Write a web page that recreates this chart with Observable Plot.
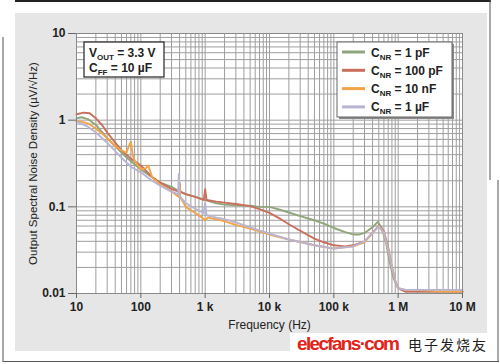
<!DOCTYPE html>
<html><head><meta charset="utf-8">
<script src="https://cdn.jsdelivr.net/npm/d3@7"></script>
<script src="https://cdn.jsdelivr.net/npm/@observablehq/plot@0.6"></script>
<style>html,body{margin:0;padding:0;background:#fff;} #chart{width:500px;height:364px;position:relative;}</style>
</head><body><div id="chart"></div>
<script>
// ---- data ----
const SERIES_NAMES = ["1 pF", "100 pF", "10 nF", "1 µF"];
const SERIES_COLORS = ["#8fa67c", "#c96f5b", "#f2a447", "#bab4d4"];

const F_1PF = [10,12,15,20,30,40,60,80,100,150,200,300,400,500,700,1000,1500,2000,3000,5000,7000,10000,15000,20000,30000,50000,70000,100000,150000,200000,250000,300000,400000,480000,550000,650000,750000,850000,1000000,1300000,2000000,5000000,10000000];
const V_1PF = [1.05,1.08,1.03,0.88,0.62,0.5,0.37,0.31,0.27,0.22,0.19,0.17,0.15,0.14,0.13,0.12,0.11,0.106,0.104,0.103,0.1,0.1,0.092,0.086,0.078,0.07,0.064,0.057,0.051,0.048,0.048,0.05,0.058,0.067,0.058,0.038,0.022,0.015,0.0115,0.0105,0.0105,0.0105,0.0105];

const F_100PF = [10,13,16,20,25,30,40,50,70,100,150,200,300,390,400,410,500,700,950,1000,1050,1500,2000,3000,5000,7000,10000,15000,20000,30000,50000,70000,100000,150000,200000,300000,400000,500000,600000,700000,800000,900000,1000000,1300000,2000000,5000000,10000000];
const V_100PF = [1.17,1.22,1.2,1.05,0.88,0.72,0.55,0.45,0.36,0.3,0.22,0.19,0.16,0.15,0.19,0.15,0.14,0.13,0.12,0.16,0.12,0.115,0.112,0.108,0.102,0.094,0.085,0.072,0.063,0.053,0.043,0.039,0.036,0.035,0.036,0.04,0.05,0.061,0.052,0.034,0.02,0.014,0.0115,0.0105,0.0105,0.0105,0.0105];

const F_10NF = [10,12,15,20,25,30,40,50,60,65,70,75,80,90,100,120,130,150,200,300,390,400,410,500,700,900,1000,1100,1500,2000,3000,5000,10000,20000,50000,100000,200000,300000,400000,500000,600000,700000,800000,900000,1000000,1300000,2000000,5000000,10000000];
const V_10NF = [0.98,0.96,0.92,0.8,0.7,0.62,0.5,0.45,0.42,0.5,0.56,0.4,0.34,0.3,0.27,0.28,0.3,0.22,0.18,0.15,0.13,0.18,0.13,0.1,0.085,0.075,0.07,0.075,0.072,0.068,0.062,0.056,0.048,0.042,0.036,0.033,0.035,0.039,0.05,0.06,0.05,0.032,0.02,0.014,0.0115,0.011,0.011,0.0105,0.0105];

const F_1UF = [10,15,20,30,40,50,70,100,150,200,300,380,390,400,410,500,700,950,1000,1050,1500,2000,3000,5000,10000,20000,50000,100000,200000,300000,400000,500000,600000,700000,800000,900000,1000000,1300000,2000000,5000000,10000000];
const V_1UF = [0.97,0.84,0.72,0.55,0.44,0.37,0.29,0.25,0.2,0.175,0.15,0.14,0.24,0.14,0.13,0.11,0.095,0.085,0.11,0.08,0.075,0.072,0.066,0.058,0.049,0.042,0.036,0.033,0.035,0.04,0.05,0.06,0.05,0.032,0.02,0.014,0.0115,0.011,0.011,0.011,0.011];

const X_TICKS = [10,100,1000,10000,100000,1000000,10000000];
const X_TICK_LABELS = ["10","100","1 k","10 k","100 k","1 M","10 M"];
const Y_TICKS = [0.01,0.1,1,10];
const Y_TICK_LABELS = ["0.01","0.1","1","10"];

const X_LABEL = "Frequency (Hz)";
const Y_LABEL = "Output Spectral Noise Density (µV/√Hz)";

// ---- build table ----
const FREQS = [F_1PF, F_100PF, F_10NF, F_1UF];
const VALS = [V_1PF, V_100PF, V_10NF, V_1UF];
const data = [];
FREQS.forEach((fs, s) => fs.forEach((f, i) => data.push({series: SERIES_NAMES[s], f, v: VALS[s][i]})));

const gridX = [];
X_TICKS.slice(0, -1).forEach(d => { for (let m = 1; m < 10; m++) gridX.push(d * m); });
gridX.push(X_TICKS[X_TICKS.length - 1]);
const gridY = [];
Y_TICKS.slice(0, -1).forEach(d => { for (let m = 1; m < 10; m++) gridY.push(d * m); });
gridY.push(Y_TICKS[Y_TICKS.length - 1]);

const xLab = new Map(X_TICKS.map((d, i) => [d, X_TICK_LABELS[i]]));
const yLab = new Map(Y_TICKS.map((d, i) => [d, Y_TICK_LABELS[i]]));

const FONT = "'Liberation Sans', Arial, sans-serif";

const svg = Plot.plot({
  width: 500, height: 364,
  marginLeft: 76, marginRight: 38, marginTop: 33, marginBottom: 71,
  style: {fontFamily: FONT, fontSize: "12px", color: "#222", background: "transparent", overflow: "visible"},
  x: {type: "log", domain: [10, 1e7], axis: null},
  y: {type: "log", domain: [0.01, 10], axis: null},
  color: {domain: SERIES_NAMES, range: SERIES_COLORS},
  marks: [
    Plot.frame({fill: "white", stroke: null}),
    Plot.ruleX(gridX, {stroke: "#9e9e9e", strokeWidth: 1}),
    Plot.ruleY(gridY, {stroke: "#9e9e9e", strokeWidth: 1}),
    Plot.line(data, {x: "f", y: "v", z: "series", stroke: "series", strokeWidth: 1.9, curve: "linear"}),
    Plot.frame({stroke: "#8a8a8a", strokeWidth: 1}),
    Plot.axisX(X_TICKS, {anchor: "bottom", tickSize: 5, tickPadding: 4, stroke: "#666", tickFormat: d => xLab.get(d), fontWeight: "bold", fontSize: 12, fill: "#222", label: null}),
    Plot.axisY(Y_TICKS, {anchor: "left", tickSize: 8, tickPadding: 3, stroke: "#666", tickFormat: d => yLab.get(d), fontWeight: "bold", fontSize: 12, fill: "#222", label: null}),
    Plot.text([X_LABEL], {frameAnchor: "bottom", dy: 35, fontSize: 12, fill: "#222"}),
    Plot.text([Y_LABEL], {frameAnchor: "left", dx: -43, rotate: -90, textAnchor: "middle", fontSize: 11.5, fill: "#222"})
  ]
});
document.getElementById("chart").append(svg);

const s = d3.select(svg);
// background decorations
const bg = s.insert("g", ":first-child");
bg.append("rect").attr("x", 0).attr("y", 0).attr("width", 500).attr("height", 364).attr("fill", "#fff");
bg.append("rect").attr("x", 15).attr("y", 13).attr("width", 472).attr("height", 338).attr("fill", "#e6e6e6");
bg.append("rect").attr("x", 290).attr("y", 333).attr("width", 200).attr("height", 26).attr("fill", "#fff");
bg.append("line").attr("x1", 15).attr("x2", 491).attr("y1", 1).attr("y2", 1).attr("stroke", "#222").attr("stroke-width", 2);
bg.append("line").attr("x1", 490).attr("x2", 490).attr("y1", 0).attr("y2", 180).attr("stroke", "#555").attr("stroke-width", 1);
bg.append("line").attr("x1", 498).attr("x2", 498).attr("y1", 180).attr("y2", 362).attr("stroke", "#555").attr("stroke-width", 1);
bg.append("line").attr("x1", 3).attr("x2", 3).attr("y1", 37).attr("y2", 362).attr("stroke", "#555").attr("stroke-width", 1);
bg.append("line").attr("x1", 3).attr("x2", 499).attr("y1", 361.5).attr("y2", 361.5).attr("stroke", "#555").attr("stroke-width", 1.2);

// annotation box
const ann = s.append("g").attr("font-family", FONT).attr("font-size", 12).attr("font-weight", "bold").attr("fill", "#222").attr("text-anchor", "start");
ann.append("rect").attr("x", 84).attr("y", 42).attr("width", 80).attr("height", 35).attr("fill", "#fff").attr("stroke", "#333").attr("stroke-width", 1.3);
const t1 = ann.append("text").attr("x", 89).attr("y", 57);
t1.append("tspan").text("V");
t1.append("tspan").attr("font-size", 8).attr("dy", 3).text("OUT");
t1.append("tspan").attr("dy", -3).text(" = 3.3 V");
const t2 = ann.append("text").attr("x", 89).attr("y", 72);
t2.append("tspan").text("C");
t2.append("tspan").attr("font-size", 8).attr("dy", 3).text("FF");
t2.append("tspan").attr("dy", -3).text(" = 10 µF");

// legend box
const leg = s.append("g").attr("font-family", FONT).attr("font-size", 12).attr("font-weight", "bold").attr("fill", "#222").attr("text-anchor", "start");
leg.append("rect").attr("x", 339).attr("y", 44).attr("width", 115).attr("height", 75).attr("fill", "#8a8a8a");
leg.append("rect").attr("x", 337).attr("y", 42).attr("width", 115).attr("height", 75).attr("fill", "#fff").attr("stroke", "#666").attr("stroke-width", 1);
SERIES_NAMES.forEach((name, i) => {
  const cy = 52 + i * 18.3;
  leg.append("line").attr("x1", 342).attr("x2", 365).attr("y1", cy).attr("y2", cy).attr("stroke", SERIES_COLORS[i]).attr("stroke-width", 3);
  const t = leg.append("text").attr("x", 371).attr("y", cy + 4.5);
  t.append("tspan").text("C");
  t.append("tspan").attr("font-size", 8).attr("dy", 3).text("NR");
  t.append("tspan").attr("dy", -3).text(" = " + name);
});

// watermark
const wm = s.append("g").attr("text-anchor", "start");
wm.append("text").attr("x", 297).attr("y", 350).attr("font-family", FONT).attr("font-size", 19).attr("font-weight", "bold").attr("fill", "#e2231a").attr("textLength", 103).text("elecfans·com");
wm.append("text").attr("x", 408).attr("y", 350).attr("font-family", "'Noto Sans CJK SC', sans-serif").attr("font-size", 14).attr("fill", "#222").attr("textLength", 78).text("电子发烧友");
</script></body></html>
